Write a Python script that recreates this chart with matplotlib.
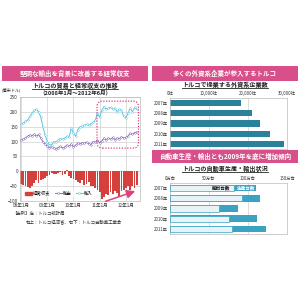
import numpy as np
import matplotlib.pyplot as plt
from matplotlib.patches import Rectangle, FancyBboxPatch, Patch
from matplotlib.lines import Line2D

plt.rcParams['font.family'] = ['Noto Sans CJK JP', 'DejaVu Sans']

W, H = 300, 300

# left: monthly trade / current account (億米ドル), 2008-01 .. 2012-06
imports = [158, 162, 168, 172, 185, 195, 205, 209, 200, 183, 150, 122,
           99, 88, 90, 100, 98, 105, 110, 108, 112, 118, 115, 145,
           128, 118, 140, 150, 152, 155, 158, 155, 160, 165, 172, 195,
           182, 205, 218, 210, 212, 215, 208, 212, 200, 208, 205, 185,
           180, 195, 212, 200, 215, 208]
exports = [105, 108, 112, 118, 122, 120, 125, 118, 124, 112, 100, 92,
           84, 80, 82, 78, 76, 80, 84, 78, 82, 88, 84, 92,
           82, 88, 95, 92, 96, 94, 98, 92, 90, 100, 98, 104,
           96, 102, 112, 106, 112, 108, 114, 106, 112, 110, 116, 112,
           114, 118, 128, 124, 130, 132]
current = [-42, -45, -50, -53, -55, -48, -38, -30, -40, -28, -25, -22,
           -15, -12, -5, -8, -10, -6, -3, -12, -8, 3, -15, -22,
           -25, -30, -35, -38, -30, -45, -42, -35, -50, -48, -55, -62,
           -70, -92, -85, -75, -80, -70, -78, -65, -72, -82, -68, -62,
           -55, -50, -62, -48, -55, -45]
month_ticks = [0, 12, 24, 36, 48]
month_labels = ['08年1月', '09年1月', '10年1月', '11年1月', '12年1月']

# top right: foreign companies
years = ['2007年', '2008年', '2009年', '2010年', '2011年']
companies = [18200, 20900, 23200, 25600, 29300]
company_ticks = [0, 10000, 20000, 30000]
company_labels = ['0社', '10,000社', '20,000社', '30,000社']

# bottom right: cars (万台)
production = [110, 116, 87, 112, 123]
car_exports = [82, 92, 63, 76, 79]
car_ticks = [0, 50, 100, 150]
car_labels = ['0万台', '50万台', '100万台', '150万台']

PINK = '#d94f8a'

fig = plt.figure(figsize=(3, 3), dpi=100)
fig.patch.set_facecolor('white')


def pbox(x0, y0, x1, y1):
    return [x0 / W, 1 - y1 / H, (x1 - x0) / W, (y1 - y0) / H]


def ft(x, y, s, **kw):
    return fig.text(x / W, 1 - y / H, s, **kw)


def banner(x0, y0, x1, y1, s):
    b = pbox(x0, y0, x1, y1)
    fig.add_artist(Rectangle((b[0], b[1]), b[2], b[3], transform=fig.transFigure,
                             facecolor=PINK, edgecolor='none'))
    ft((x0 + x1) / 2, (y0 + y1) / 2, s, color='white', fontsize=4.7,
       fontweight='bold', ha='center', va='center')


def underlined(x, y, s, size=4.4):
    t = ft(x, y, s, fontsize=size, fontweight='bold', ha='center', va='center',
           color='#222222')
    r = fig.canvas.get_renderer()
    bb = t.get_window_extent(r)
    yy = bb.y0 / (H) - 0.001
    fig.add_artist(Line2D([bb.x0 / W, bb.x1 / W], [yy, yy], transform=fig.transFigure,
                          color='#222222', lw=0.6))


# ---------------- left panel ----------------
banner(2, 66, 148, 81, '堅調な輸出を背景に改善する経常収支')
underlined(75, 85.5, 'トルコの貿易と経常収支の推移')
ft(75, 92.5, '（2008年1月～2012年6月）', fontsize=4.0, fontweight='bold',
   ha='center', va='center', color='#222222')
ft(2, 90, '(億米ドル)', fontsize=3.0, ha='left', va='center', color='#333333')

ax = fig.add_axes(pbox(20, 97, 140, 201))
months = np.arange(len(imports))
ax.bar(months, current, width=0.8, color='#d6403c', zorder=2)
ax.plot(months, exports, color='#8c6bb8', lw=0.7, marker='o', ms=1.2,
        mfc='white', mew=0.35, zorder=3)
ax.plot(months, imports, color='#5ec6e0', lw=0.7, marker='o', ms=1.2,
        mfc='white', mew=0.35, zorder=3)
ax.set_xlim(-0.5, 54.5)
ax.set_ylim(-100, 250)
ax.set_yticks([-100, -50, 0, 50, 100, 150, 200, 250])
ax.set_xticks(month_ticks)
ax.set_xticklabels(month_labels)
ax.tick_params(labelsize=3.3, length=0, pad=1.5, colors='#333333')
ax.grid(True, color='#cfcfcf', lw=0.5, zorder=0)
for sp in ax.spines.values():
    sp.set_color('#bbbbbb')
    sp.set_linewidth(0.5)

# highlight box and trend arrow
ax.add_patch(FancyBboxPatch((34.8, 78), 19.0, 158,
                            boxstyle='round,pad=0,rounding_size=2.5',
                            mutation_aspect=7.4, fill=False, edgecolor='#e0407f',
                            lw=0.9, ls=(0, (1, 1.2)), clip_on=False, zorder=4))
ax.annotate('', xy=(53.5, -64), xytext=(37.5, -104), annotation_clip=False,
            arrowprops=dict(arrowstyle='-|>,head_length=0.5,head_width=0.25',
                            color='#e0407f', lw=1.1), zorder=5)

handles = [Patch(color='#d6403c', label='経常収支'),
           Line2D([], [], color='#8c6bb8', lw=0.7, marker='o', ms=1.5,
                  mfc='white', mew=0.35, label='輸出'),
           Line2D([], [], color='#5ec6e0', lw=0.7, marker='o', ms=1.5,
                  mfc='white', mew=0.35, label='輸入')]
leg = ax.legend(handles=handles, loc='lower left', bbox_to_anchor=(0.01, 0.015),
                ncol=3, fontsize=3.2, frameon=True, handlelength=1.6,
                handleheight=0.6, columnspacing=0.9, handletextpad=0.3,
                borderpad=0.3, fancybox=False)
leg.get_frame().set_edgecolor('none')
leg.get_frame().set_facecolor('white')

ft(12, 213, '【出所】左：トルコ統計局', fontsize=3.2, ha='left', va='center',
   color='#333333')
ft(26, 222, '右上：トルコ経済省、右下：トルコ自動車工業会', fontsize=3.2,
   ha='left', va='center', color='#333333')

# ---------------- top right ----------------
banner(152, 66, 298, 81, '多くの外資系企業が参入するトルコ')
underlined(225, 84.5, 'トルコで操業する外資系企業数')
ax2 = fig.add_axes(pbox(170, 98, 287, 149))
ax2.barh(np.arange(len(years)), companies, height=0.6, color='#2b8199', zorder=2)
ax2.set_xlim(0, 30000)
ax2.set_ylim(4.5, -0.5)
ax2.set_yticks(np.arange(len(years)))
ax2.set_yticklabels(years)
ax2.set_xticks(company_ticks)
ax2.set_xticklabels(company_labels)
ax2.xaxis.tick_top()
ax2.tick_params(labelsize=3.1, length=0, pad=1.5, colors='#333333')
ax2.grid(True, axis='x', color='#cfcfcf', lw=0.5, zorder=0)
for sp in ax2.spines.values():
    sp.set_color('#bbbbbb')
    sp.set_linewidth(0.5)

# ---------------- bottom right ----------------
banner(152, 150, 298, 163, '自動車生産・輸出とも2009年を底に増加傾向')
underlined(225, 168, 'トルコの自動車生産・輸出状況')
ax3 = fig.add_axes(pbox(170, 183, 287, 234))
pos = np.arange(len(years))
ax3.barh(pos, production, height=0.65, color='#3aa2c2', zorder=2)
ax3.barh(pos, car_exports, height=0.62, color='#e8f3f8', edgecolor='#3aa2c2',
         lw=0.5, zorder=3)
ax3.text(66, 0, '輸出台数', fontsize=3.3, fontweight='bold', ha='center',
         va='center', color='#111111', zorder=4)
ax3.text(97, 0, '生産台数', fontsize=3.3, fontweight='bold', ha='center',
         va='center', color='white', zorder=4)
ax3.set_xlim(0, 150)
ax3.set_ylim(4.5, -0.5)
ax3.set_yticks(pos)
ax3.set_yticklabels(years)
ax3.set_xticks(car_ticks)
ax3.set_xticklabels(car_labels)
ax3.xaxis.tick_top()
ax3.tick_params(labelsize=3.1, length=0, pad=1.5, colors='#333333')
ax3.grid(True, axis='x', color='#cfcfcf', lw=0.5, zorder=0)
for sp in ax3.spines.values():
    sp.set_color('#bbbbbb')
    sp.set_linewidth(0.5)

fig.savefig('out.png', dpi=100)
